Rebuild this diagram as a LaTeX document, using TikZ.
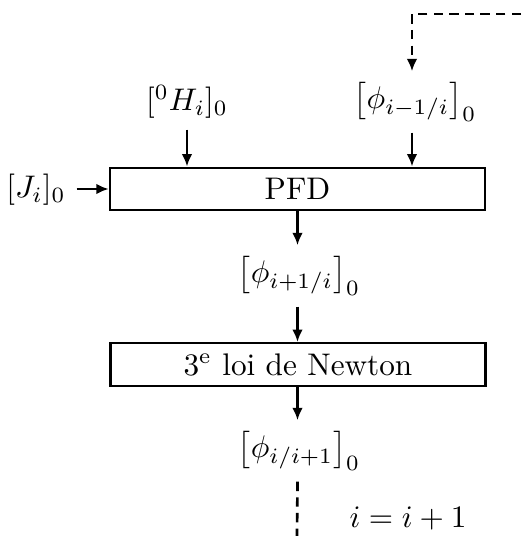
\documentclass[tikz,border=0pt]{standalone}
\usetikzlibrary{arrows.meta}
\begin{document}
\begin{tikzpicture}[x=0.32pt,y=-0.32pt,
  bloc/.style={draw, line width=0.75pt, minimum width=120pt, minimum height=13.6pt, inner sep=0pt},
  fleche/.style={-{Latex[length=4pt,width=3.4pt]}, line width=0.85pt},
  boucle/.style={line width=0.85pt, dash pattern=on 3pt off 2pt}]
\useasboundingbox (0,0) rectangle (521,536);
% blocs
\node[bloc] (pfd) at (297.5,189) {PFD};
\node[bloc] (newton) at (298,364.5) {3\textsuperscript{e} loi de Newton};
% entrees
\node (h) at (187,102) {$[{}^0H_i]_0$};
\node (phiA) at (415,102) {$\left[\phi_{i-1/i}\right]_0$};
\node (j) at (36,190) {$[J_i]_0$};
% sorties
\node (phiB) at (299,276) {$\left[\phi_{i+1/i}\right]_0$};
\node (phiC) at (299,451) {$\left[\phi_{i/i+1}\right]_0$};
\node (incr) at (408,518) {$i=i+1$};
% extremites de la boucle
\coordinate (bord) at (521,14);
\coordinate (haut) at (412,14);
\coordinate (bas) at (297,536);
% liaisons
\draw[boucle, -{Latex[length=4pt,width=3.4pt]}] (bord) -- (haut) -- (haut |- phiA.north);
\draw[fleche] (haut |- phiA.south) -- (haut |- pfd.north);
\draw[fleche] (h.south) -- (h.south |- pfd.north);
\draw[fleche] (j.east |- pfd.west) -- (pfd.west);
\draw[fleche] (pfd.south) -- (pfd.south |- phiB.north);
\draw[fleche] (pfd.south |- phiB.south) -- (pfd.south |- newton.north);
\draw[fleche] (pfd.south |- newton.south) -- (pfd.south |- phiC.north);
\draw[boucle] (pfd.south |- phiC.south) -- (bas);
\end{tikzpicture}
\end{document}
